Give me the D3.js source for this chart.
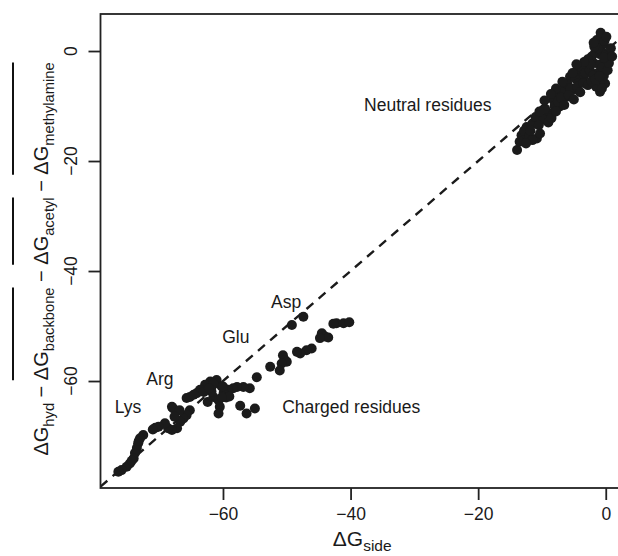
<!DOCTYPE html>
<html>
<head>
<meta charset="utf-8">
<script src="https://cdn.jsdelivr.net/npm/d3@7"></script>
<style>
  html, body { margin: 0; padding: 0; background: #fff; }
  svg { display: block; font-family: "Liberation Sans", Arial, sans-serif; }
</style>
</head>
<body>
<div id="chart"></div>
<script>
// Charged residues (dGside, dGhyd - corrections)
const chargedX = [-49.2, -47.4, -42.2, -41.1, -40.2, -42.7, -44.5, -44.0, -43.5, -44.8,
    -46.1, -46.9, -47.9, -48.4, -50.6, -50.3, -50.0, -50.8, -52.6, -51.1,
    -54.7, -55.8, -56.8, -57.8, -58.4, -59.2, -57.3, -56.3, -55.0,
    -61.0, -62.0, -62.8, -63.6, -64.1, -61.5, -60.7, -60.5, -60.7, -59.9,
    -65.7, -65.2, -64.6, -68.0, -67.8,
    -65.2, -65.7, -66.2, -66.7, -67.2, -68.0, -68.6, -69.1, -70.1, -70.6,
    -72.5, -73.0, -73.3, -73.5, -73.8, -74.0, -74.6, -75.1, -75.9, -76.4,
    -60.2, -61.8, -62.4, -59.5, -61.5, -63.0, -62.2, -60.0, -59.0, -60.2,
    -66.8, -67.6, -71.0, -73.2, -74.3];
const chargedY = [-49.8, -48.3, -49.5, -49.5, -49.3, -49.6, -51.3, -51.9, -52.1, -52.2,
    -54.1, -54.4, -55.0, -54.7, -55.3, -56.2, -56.5, -56.8, -57.4, -58.1,
    -59.3, -61.3, -61.1, -61.1, -61.3, -61.6, -64.5, -65.9, -65.0,
    -59.8, -60.1, -60.7, -61.6, -62.2, -62.9, -63.5, -64.7, -65.9, -62.2,
    -63.1, -62.9, -62.5, -64.7, -65.0,
    -65.3, -66.2, -66.8, -67.4, -68.6, -68.9, -68.6, -67.7, -68.3, -68.5,
    -69.8, -70.4, -71.3, -72.2, -73.1, -74.1, -75.0, -75.6, -76.2, -76.5,
    -61.0, -61.9, -63.8, -63.0, -60.5, -62.0, -61.3, -61.0, -62.8, -63.0,
    -65.3, -66.5, -68.8, -70.9, -74.5];

// Neutral residues
const neutralX = [-13.9, -13.2, -12.4, -10.8, -10.3, -9.2, -8.2, -7.7, -6.4, -5.6,
    -4.5, -4.0, -1.9, -1.4, -0.9, -0.1, -1.7, -0.6, 0.2, -0.9,
    -8.7, -7.2, -6.1, -5.1, -3.5, -3.0, -2.2, -0.7, -1.4, -0.4, -1.2,
    -12.8, -11.5, -11.0, -9.8, -9.5, -8.0, -7.5, -6.8, -6.0, -5.5,
    -4.8, -4.2, -3.8, -3.2, -2.5, -2.0, -1.0, -0.5, -1.5, -0.3,
    0.5, -0.2, 0.8, -13.5, -12.0, -11.5, -2.8, -1.8,
    -12.5, -11.8, -10.5, -9.0, -8.5, -7.8, -7.0, -6.5, -5.8, -5.0,
    -4.5, -4.0, -3.5, -2.8, -2.2, -1.6, -1.0, -0.6, 0.3, 0.5,
    -0.3, -2.4, -3.4, -4.6, -5.2, -6.8, -7.8, -8.6, -9.6, -10.4,
    -0.8, 0.1, -1.9, 1.0];
const neutralY = [-18.0, -15.3, -13.8, -15.9, -15.0, -11.9, -8.9, -7.7, -6.5, -4.7,
    -3.5, -4.1, -2.2, -4.1, -7.4, -5.9, -0.4, -0.1, -1.6, -5.9,
    -11.3, -10.1, -8.3, -7.1, -4.7, -2.9, -1.0, 2.9, 2.0, 1.3, 0.5,
    -14.5, -13.2, -12.0, -12.5, -10.5, -10.0, -9.2, -7.5, -6.0, -6.8,
    -5.0, -5.8, -3.0, -4.0, -3.5, -4.5, -2.5, -3.0, -6.5, -4.5,
    -0.5, 1.8, 0.5, -16.5, -15.5, -16.2, -1.5, 0.8,
    -16.8, -14.5, -13.5, -13.0, -12.2, -11.0, -8.5, -9.8, -8.0, -8.8,
    -6.5, -7.5, -5.8, -6.2, -5.5, -5.2, -4.6, -6.8, -3.5, -2.2,
    -1.2, -2.4, -2.0, -2.4, -4.0, -5.6, -6.8, -7.8, -9.0, -11.0,
    3.3, 2.6, 1.5, -1.0];

const tickValues = [-60, -40, -20, 0];

const labelText = ["Neutral residues", "Charged residues", "Lys", "Arg", "Glu", "Asp"];
const labelX = [-27.9, -39.9, -74.9, -69.9, -58.0, -50.1];
const labelY = [-9.8, -64.7, -64.7, -59.6, -52.0, -45.6];

const points = chargedX.map((v, i) => ({x: v, y: chargedY[i]}))
    .concat(neutralX.map((v, i) => ({x: v, y: neutralY[i]})));

// Dimensions
const W = 618, H = 556;
const margin = {top: 14, left: 100.5};
const width = 531.4, height = 474;
const ink = "#1b1b1b";

const svg = d3.select("#chart").append("svg")
    .attr("width", W)
    .attr("height", H);

const x = d3.scaleLinear().domain([-79.2, 4.1]).range([margin.left, margin.left + width]);
const y = d3.scaleLinear().domain([-79.45, 6.73]).range([margin.top + height, margin.top]);

svg.append("clipPath").attr("id", "plot-clip")
    .append("rect")
    .attr("x", margin.left).attr("y", margin.top)
    .attr("width", width).attr("height", height);

// identity line
const lo = x.domain()[0], hi = x.domain()[1];
svg.append("line")
    .attr("clip-path", "url(#plot-clip)")
    .attr("x1", x(lo)).attr("y1", y(lo))
    .attr("x2", x(hi)).attr("y2", y(hi))
    .attr("stroke", ink)
    .attr("stroke-width", 2.4)
    .attr("stroke-dasharray", "9,7");

// points
svg.append("g").selectAll("circle")
    .data(points)
    .join("circle")
    .attr("cx", d => x(d.x))
    .attr("cy", d => y(d.y))
    .attr("r", 5)
    .attr("fill", ink);

// box
svg.append("rect")
    .attr("x", margin.left).attr("y", margin.top)
    .attr("width", width).attr("height", height)
    .attr("fill", "none")
    .attr("stroke", "#222")
    .attr("stroke-width", 1.8);

// X axis
const xAxis = svg.append("g")
    .attr("transform", `translate(0,${margin.top + height})`)
    .call(d3.axisBottom(x).tickValues(tickValues).tickSize(12).tickPadding(8));
xAxis.select(".domain").remove();
xAxis.selectAll("line").attr("stroke", "#222").attr("stroke-width", 1.8);
xAxis.selectAll("text")
    .attr("font-size", 17.5)
    .attr("font-family", "Liberation Sans, Arial, sans-serif")
    .attr("fill", "#1a1a1a");

// Y axis (rotated labels, R style)
const yAxis = svg.append("g")
    .attr("transform", `translate(${margin.left},0)`)
    .call(d3.axisLeft(y).tickValues(tickValues).tickSize(12).tickFormat(""));
yAxis.select(".domain").remove();
yAxis.selectAll("line").attr("stroke", "#222").attr("stroke-width", 1.8);

svg.append("g").selectAll("text")
    .data(tickValues)
    .join("text")
    .attr("transform", d => `translate(77,${y(d)}) rotate(-90)`)
    .attr("text-anchor", "middle")
    .attr("font-size", 17.5)
    .attr("fill", "#1a1a1a")
    .text(d => d3.format("")(d).replace("-", "\u2212"));

// annotations
svg.append("g").selectAll("text")
    .data(labelText)
    .join("text")
    .attr("x", (d, i) => x(labelX[i]))
    .attr("y", (d, i) => y(labelY[i]))
    .attr("text-anchor", "middle")
    .attr("dominant-baseline", "central")
    .attr("font-size", 17.5)
    .attr("fill", "#1a1a1a")
    .text(d => d);

// helper: math-style label "ΔG_sub − ΔG_sub ..." with optional overlines
function mathLabel(g, parts, big, small, subShift) {
    let pos = 0;
    const spans = [];
    parts.forEach(p => {
        const start = pos;
        const t = g.append("text").attr("x", pos).attr("font-size", big)
            .attr("fill", "#1a1a1a").style("white-space", "pre").text(p.main);
        pos += t.node().getComputedTextLength();
        if (p.sub) {
            const s = g.append("text").attr("x", pos).attr("y", subShift)
                .attr("font-size", small).attr("fill", "#1a1a1a").text(p.sub);
            pos += s.node().getComputedTextLength();
        }
        spans.push({start, end: pos, over: p.over});
    });
    spans.filter(s => s.over).forEach(s => {
        g.append("line")
            .attr("x1", s.start).attr("x2", s.end)
            .attr("y1", -35).attr("y2", -35)
            .attr("stroke", "#111").attr("stroke-width", 2);
    });
    g.selectAll("*").attr("transform", `translate(${-pos / 2},0)`);
}

const sep = "\u00A0\u2212\u00A0";
const yParts = [
    {main: "\u0394G", sub: "hyd"},
    {main: sep},
    {main: "\u0394G", sub: "backbone", over: true},
    {main: sep},
    {main: "\u0394G", sub: "acetyl", over: true},
    {main: sep},
    {main: "\u0394G", sub: "methylamine", over: true}
];
const yLab = svg.append("g").attr("transform", `translate(48,${(margin.top + margin.top + height) / 2 + 8}) rotate(-90)`);
mathLabel(yLab, yParts, 20, 14.7, 6);

const xLab = svg.append("g").attr("transform", `translate(${margin.left + width / 2 - 4},546)`);
mathLabel(xLab, [{main: "\u0394G", sub: "side"}], 21, 15.5, 5);
</script>
</body>
</html>
